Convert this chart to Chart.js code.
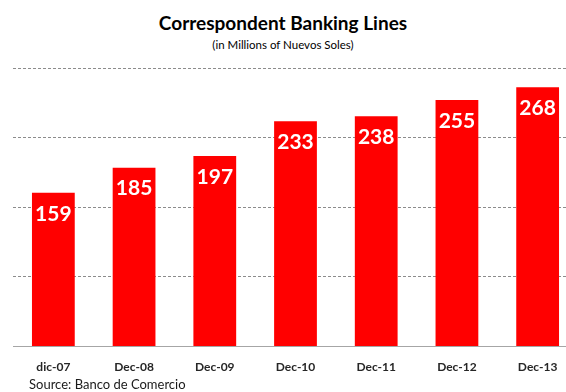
<!DOCTYPE html>
<html>
<head>
<meta charset="utf-8">
<script src="https://cdn.jsdelivr.net/npm/chart.js@4.4.1/dist/chart.umd.min.js"></script>
<style>
    html, body { margin: 0; padding: 0; background: #fff; overflow: hidden; }
    body { width: 566px; height: 392px; position: relative; font-family: Lato, 'Open Sans', sans-serif; }
    .title { position: absolute; top: 11px; left: 0; width: 566px; text-align: center; font-size: 19px; font-weight: 700; color: #000; }
    .subtitle { position: absolute; top: 38px; left: 0; width: 566px; text-align: center; font-size: 11.5px; color: #000; }
    .source { position: absolute; top: 376px; left: 29px; font-size: 13px; color: #1a1a1a; }
    .chart-box { position: absolute; top: 60px; left: 0; width: 580px; height: 319px; }
</style>
</head>
<body>
<div class="title">Correspondent Banking Lines</div>
<div class="subtitle">(in Millions of Nuevos Soles)</div>
<div class="chart-box"><canvas id="linesChart"></canvas></div>
<div class="source">Source: Banco de Comercio</div>

<script>
// Yearly figures, millions of soles
const periods = ['dic-07', 'Dec-08', 'Dec-09', 'Dec-10', 'Dec-11', 'Dec-12', 'Dec-13'];
const lineAmounts = [159, 185, 197, 233, 238, 255, 268];
const gridTicks = [0, 72, 144, 216, 288];

// white value printed just under the top of each bar
const barValueLabels = {
    id: 'barValueLabels',
    afterDatasetsDraw(chart) {
        const { ctx } = chart;
        const meta = chart.getDatasetMeta(0);
        ctx.save();
        ctx.fillStyle = '#ffffff';
        ctx.font = "bold 21px Lato, 'Open Sans', sans-serif";
        ctx.textAlign = 'center';
        ctx.textBaseline = 'middle';
        meta.data.forEach((bar, i) => {
            ctx.fillText(String(lineAmounts[i]), bar.x, bar.y + 21);
        });
        ctx.restore();
    }
};

new Chart(document.getElementById('linesChart'), {
    type: 'bar',
    data: {
        labels: periods,
        datasets: [{
            data: lineAmounts,
            backgroundColor: '#ff0000',
            borderWidth: 0,
            barPercentage: 0.53,
            categoryPercentage: 1.0
        }]
    },
    options: {
        responsive: true,
        maintainAspectRatio: false,
        animation: false,
        layout: { padding: { top: 8, left: 13, right: 2, bottom: 0 } },
        plugins: {
            legend: { display: false },
            tooltip: { enabled: false }
        },
        scales: {
            x: {
                grid: { display: false },
                border: { display: true, color: '#a6a6a6', width: 1 },
                ticks: {
                    color: '#262626',
                    padding: 5,
                    font: { family: "Lato, 'Open Sans', sans-serif", size: 12, weight: 'bold' }
                }
            },
            y: {
                min: 0,
                max: 288,
                afterBuildTicks: (axis) => { axis.ticks = gridTicks.map(v => ({ value: v })); },
                ticks: { display: false },
                border: { display: false, dash: [3, 2] },
                grid: { color: '#8c8c8c', lineWidth: 1, drawTicks: false }
            }
        }
    },
    plugins: [barValueLabels]
});
</script>
</body>
</html>
